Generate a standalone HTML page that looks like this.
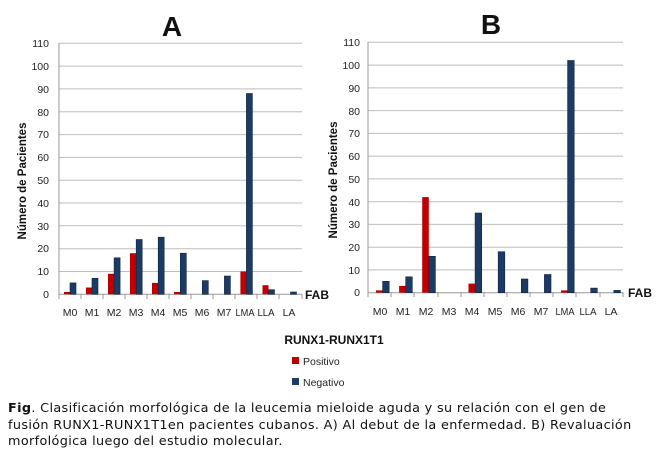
<!DOCTYPE html>
<html><head><meta charset="utf-8"><style>
html,body{margin:0;padding:0;background:#fff;width:658px;height:460px;overflow:hidden}
svg{display:block}
.t{font-family:"Liberation Sans",sans-serif;font-size:10.5px;fill:#222}
.b{font-family:"Liberation Sans",sans-serif;font-weight:bold;fill:#111}
.cap{position:absolute;left:8px;top:401px;width:655px;font-family:"DejaVu Sans","Liberation Sans",sans-serif;font-size:12.8px;letter-spacing:0.35px;line-height:16.5px;color:#111;white-space:nowrap}
</style></head><body>
<svg width="658" height="400" viewBox="0 0 658 400" style="position:absolute;left:0;top:0">
<g stroke="#bdbdbd" stroke-width="1">
<line x1="59" x2="302" y1="271.5" y2="271.5"/><line x1="59" x2="302" y1="248.7" y2="248.7"/><line x1="59" x2="302" y1="225.8" y2="225.8"/><line x1="59" x2="302" y1="203" y2="203"/><line x1="59" x2="302" y1="180.2" y2="180.2"/><line x1="59" x2="302" y1="157.4" y2="157.4"/><line x1="59" x2="302" y1="134.6" y2="134.6"/><line x1="59" x2="302" y1="111.7" y2="111.7"/><line x1="59" x2="302" y1="88.9" y2="88.9"/><line x1="59" x2="302" y1="66.1" y2="66.1"/><line x1="59" x2="302" y1="43.3" y2="43.3"/>
<line x1="368" x2="623" y1="269.9" y2="269.9"/><line x1="368" x2="623" y1="247.2" y2="247.2"/><line x1="368" x2="623" y1="224.4" y2="224.4"/><line x1="368" x2="623" y1="201.7" y2="201.7"/><line x1="368" x2="623" y1="178.9" y2="178.9"/><line x1="368" x2="623" y1="156.1" y2="156.1"/><line x1="368" x2="623" y1="133.4" y2="133.4"/><line x1="368" x2="623" y1="110.6" y2="110.6"/><line x1="368" x2="623" y1="87.9" y2="87.9"/><line x1="368" x2="623" y1="65.1" y2="65.1"/><line x1="368" x2="623" y1="42.3" y2="42.3"/>
</g>
<g stroke="#999" stroke-width="1">
<line x1="59" x2="59" y1="43" y2="299"/><line x1="59" x2="302" y1="294.3" y2="294.3"/>
<line x1="81" x2="81" y1="294" y2="299"/><line x1="103" x2="103" y1="294" y2="299"/><line x1="125" x2="125" y1="294" y2="299"/><line x1="147" x2="147" y1="294" y2="299"/><line x1="169" x2="169" y1="294" y2="299"/><line x1="191" x2="191" y1="294" y2="299"/><line x1="213" x2="213" y1="294" y2="299"/><line x1="235" x2="235" y1="294" y2="299"/><line x1="257" x2="257" y1="294" y2="299"/><line x1="279" x2="279" y1="294" y2="299"/><line x1="302" x2="302" y1="294" y2="299"/>
<line x1="368" x2="368" y1="42" y2="297"/><line x1="368" x2="623" y1="292.7" y2="292.7"/>
<line x1="391" x2="391" y1="292" y2="297"/><line x1="414" x2="414" y1="292" y2="297"/><line x1="438" x2="438" y1="292" y2="297"/><line x1="461" x2="461" y1="292" y2="297"/><line x1="484" x2="484" y1="292" y2="297"/><line x1="507" x2="507" y1="292" y2="297"/><line x1="530" x2="530" y1="292" y2="297"/><line x1="553" x2="553" y1="292" y2="297"/><line x1="576" x2="576" y1="292" y2="297"/><line x1="600" x2="600" y1="292" y2="297"/><line x1="623" x2="623" y1="292" y2="297"/>
</g>
<g fill="#c00000">
<rect x="64" y="292" width="6" height="2.3"/><rect x="86" y="287.5" width="6" height="6.8"/><rect x="108" y="273.8" width="6" height="20.5"/><rect x="130" y="253.2" width="6" height="41.1"/><rect x="152" y="282.9" width="6" height="11.4"/><rect x="174" y="292" width="6" height="2.3"/><rect x="240.4" y="271.5" width="6" height="22.8"/><rect x="262.5" y="285.2" width="6" height="9.1"/>
<rect x="376" y="290.4" width="6.6" height="2.3"/><rect x="399.1" y="285.9" width="6.6" height="6.8"/><rect x="422.2" y="197.1" width="6.6" height="95.6"/><rect x="468.5" y="283.6" width="6.6" height="9.1"/><rect x="561" y="290.4" width="6.6" height="2.3"/>
</g>
<g fill="#1b3a64" stroke="#10243f" stroke-width="0.6">
<rect x="70" y="282.9" width="6" height="11.4"/><rect x="92" y="278.3" width="6" height="16"/><rect x="114.1" y="257.8" width="6" height="36.5"/><rect x="136.2" y="239.5" width="6" height="54.8"/><rect x="158.2" y="237.2" width="6" height="57.1"/><rect x="180.3" y="253.2" width="6" height="41.1"/><rect x="202.3" y="280.6" width="6" height="13.7"/><rect x="224.4" y="276" width="6" height="18.3"/><rect x="246.4" y="93.5" width="6" height="200.8"/><rect x="268.5" y="289.7" width="6" height="4.6"/><rect x="290.5" y="292" width="6" height="2.3"/>
<rect x="382.6" y="281.3" width="6.6" height="11.4"/><rect x="405.7" y="276.8" width="6.6" height="15.9"/><rect x="428.8" y="256.3" width="6.6" height="36.4"/><rect x="475.1" y="213" width="6.6" height="79.7"/><rect x="498.2" y="251.7" width="6.6" height="41"/><rect x="521.3" y="279" width="6.6" height="13.7"/><rect x="544.4" y="274.5" width="6.6" height="18.2"/><rect x="567.6" y="60.5" width="6.6" height="232.2"/><rect x="590.7" y="288.1" width="6.6" height="4.6"/><rect x="613.8" y="290.4" width="6.6" height="2.3"/>
</g>
<g class="t" text-anchor="end">
<text x="49" y="298">0</text><text x="49" y="275">10</text><text x="49" y="252">20</text><text x="49" y="230">30</text><text x="49" y="207">40</text><text x="49" y="184">50</text><text x="49" y="161">60</text><text x="49" y="138">70</text><text x="49" y="116">80</text><text x="49" y="93">90</text><text x="49" y="70">100</text><text x="49" y="47">110</text>
<text x="360" y="296">0</text><text x="360" y="274">10</text><text x="360" y="251">20</text><text x="360" y="228">30</text><text x="360" y="206">40</text><text x="360" y="183">50</text><text x="360" y="160">60</text><text x="360" y="137">70</text><text x="360" y="115">80</text><text x="360" y="92">90</text><text x="360" y="69">100</text><text x="360" y="46">110</text>
</g>
<g class="t" text-anchor="middle" font-size="10">
<text x="70" y="316">M0</text><text x="92" y="316">M1</text><text x="114" y="316">M2</text><text x="136" y="316">M3</text><text x="158" y="316">M4</text><text x="180" y="316">M5</text><text x="202" y="316">M6</text><text x="224" y="316">M7</text><text x="245" y="316" textLength="19" lengthAdjust="spacingAndGlyphs">LMA</text><text x="266" y="316" textLength="17" lengthAdjust="spacingAndGlyphs">LLA</text><text x="289" y="316">LA</text>
<text x="380" y="315">M0</text><text x="403" y="315">M1</text><text x="426" y="315">M2</text><text x="449" y="315">M3</text><text x="472" y="315">M4</text><text x="495" y="315">M5</text><text x="518" y="315">M6</text><text x="541" y="315">M7</text><text x="565" y="315" textLength="19" lengthAdjust="spacingAndGlyphs">LMA</text><text x="588" y="315" textLength="17" lengthAdjust="spacingAndGlyphs">LLA</text><text x="611" y="315">LA</text>
</g>
<text class="b" font-size="12" x="305" y="299">FAB</text>
<text class="b" font-size="12" x="628" y="297">FAB</text>
<text class="b" font-size="11.5" transform="translate(26,181) rotate(-90)" text-anchor="middle">Número de Pacientes</text>
<text class="b" font-size="11.5" transform="translate(337,180) rotate(-90)" text-anchor="middle">Número de Pacientes</text>
<text class="b" font-size="28" x="172" y="36" text-anchor="middle">A</text>
<text class="b" font-size="28" x="491" y="34" text-anchor="middle">B</text>
<text class="b" font-size="12" x="334" y="344" text-anchor="middle">RUNX1-RUNX1T1</text>
<rect x="292" y="357" width="7" height="7" fill="#c00000"/>
<text class="t" font-size="11.5" x="303" y="365">Positivo</text>
<rect x="292" y="378" width="7" height="7" fill="#1b3a64"/>
<text class="t" font-size="11.5" x="303" y="386">Negativo</text>
</svg>
<div class="cap"><b>Fig</b>. Clasificación morfológica de la leucemia mieloide aguda y su relación con el gen de<br>fusión RUNX1-RUNX1T1en pacientes cubanos. A) Al debut de la enfermedad. B) Revaluación<br>morfológica luego del estudio molecular.</div>
</body></html>
